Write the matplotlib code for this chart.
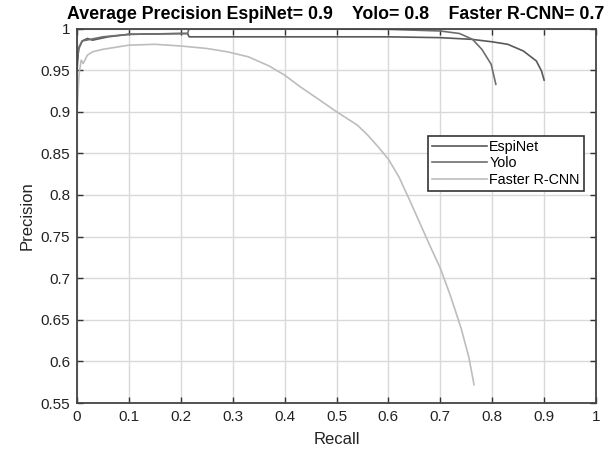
import matplotlib
matplotlib.use("Agg")
import matplotlib.pyplot as plt
import numpy as np

# values
espinet_r = [0.0, 0.003, 0.01, 0.02, 0.03, 0.06, 0.1, 0.2, 0.213, 0.216, 0.4, 0.6, 0.7,
             0.76, 0.8, 0.83, 0.86, 0.885, 0.895, 0.9]
espinet_p = [0.95, 0.975, 0.985, 0.988, 0.986, 0.99, 0.993, 0.994, 0.994, 0.99, 0.99, 0.99,
             0.989, 0.987, 0.984, 0.981, 0.973, 0.961, 0.949, 0.938]

yolo_r = [0.0, 0.004, 0.01, 0.05, 0.1, 0.213, 0.216, 0.4, 0.6, 0.65, 0.7, 0.737, 0.762,
          0.78, 0.798, 0.807]
yolo_p = [0.96, 0.978, 0.985, 0.99, 0.993, 0.994, 1.0, 1.0, 0.999, 0.998, 0.997, 0.994,
          0.987, 0.975, 0.957, 0.933]

frcnn_r = [0.0, 0.004, 0.008, 0.012, 0.02, 0.03, 0.05, 0.1, 0.15, 0.2, 0.25, 0.29, 0.33,
           0.37, 0.4, 0.43, 0.47, 0.5, 0.52, 0.54, 0.56, 0.58, 0.6, 0.62, 0.64, 0.66,
           0.68, 0.7, 0.72, 0.74, 0.755, 0.765]
frcnn_p = [0.9, 0.945, 0.962, 0.958, 0.968, 0.972, 0.975, 0.98, 0.981, 0.979, 0.976,
           0.972, 0.966, 0.955, 0.944, 0.93, 0.913, 0.9, 0.892, 0.884, 0.872, 0.858,
           0.843, 0.822, 0.795, 0.767, 0.739, 0.712, 0.678, 0.64, 0.605, 0.572]

labels = ["EspiNet", "Yolo", "Faster R-CNN"]
colors = ["#595959", "#6e6e6e", "#bdbdbd"]

plt.rcParams["font.family"] = ["Liberation Sans", "DejaVu Sans"]

fig = plt.figure(figsize=(6.14, 4.51), dpi=100)
ax = fig.add_axes([0.1254, 0.1064, 0.8453, 0.8304])

ax.plot(espinet_r, espinet_p, color=colors[0], lw=1.2, label=labels[0])
ax.plot(yolo_r, yolo_p, color=colors[1], lw=1.2, label=labels[1])
ax.plot(frcnn_r, frcnn_p, color=colors[2], lw=1.2, label=labels[2])

ax.set_xlim(0, 1)
ax.set_ylim(0.55, 1)
xt = np.round(np.arange(0, 1.01, 0.1), 2)
yt = np.round(np.arange(0.55, 1.001, 0.05), 2)
ax.set_xticks(xt)
ax.set_yticks(yt)
ax.set_xticklabels(["%g" % v for v in xt])
ax.set_yticklabels(["%g" % v for v in yt])
ax.tick_params(direction="in", top=True, right=True, length=4, width=1,
               colors="#333333", labelsize=11, labelcolor="#222222", pad=5)
ax.grid(True, color="#d9d9d9", lw=1)
ax.set_axisbelow(True)
for s in ax.spines.values():
    s.set_color("#444444")
    s.set_linewidth(1.3)

ax.set_xlabel("Recall", fontsize=12, color="#222222", labelpad=6)
ax.set_ylabel("Precision", fontsize=12, color="#222222", labelpad=4)
fig.text(0.546, 0.968, "Average Precision EspiNet= 0.9    Yolo= 0.8    Faster R-CNN= 0.7",
         ha="center", va="center", fontsize=12.8, fontweight="bold")

leg = ax.legend(loc="upper left", bbox_to_anchor=(0.676, 0.713), fontsize=10.3,
                fancybox=False, framealpha=1, edgecolor="#333333", handlelength=3.8,
                handletextpad=0.2, borderpad=0.3, labelspacing=0.15, borderaxespad=0)
leg.get_frame().set_linewidth(1.2)

fig.savefig("out.png", dpi=100)
